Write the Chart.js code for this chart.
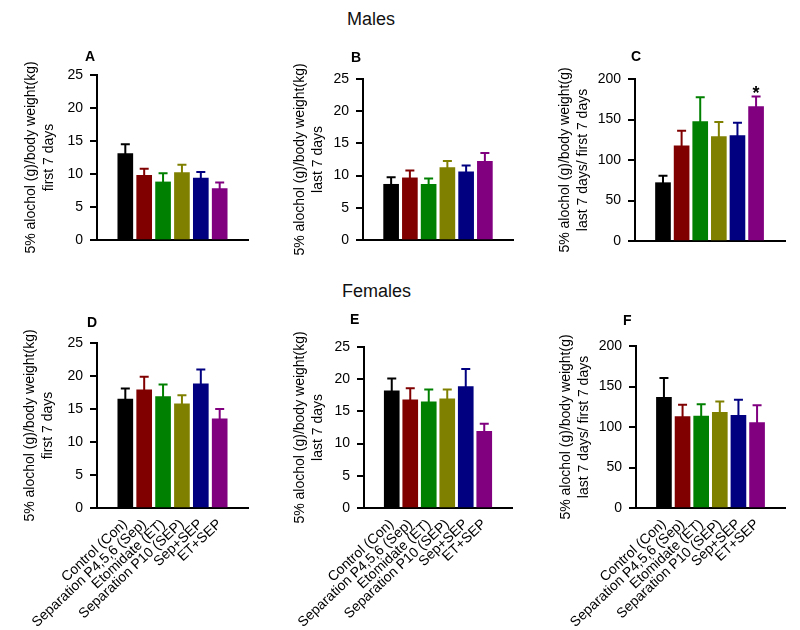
<!DOCTYPE html>
<html>
<head>
<meta charset="utf-8">
<script src="https://cdn.jsdelivr.net/npm/chart.js@4.4.1/dist/chart.umd.min.js"></script>
<style>
  body { margin: 0; background: #fff; width: 800px; height: 630px; position: relative; overflow: hidden;
         font-family: 'Liberation Sans', Arial, sans-serif; }
  .head { position: absolute; font-size: 18px; color: #111; }
  canvas { position: absolute; }
</style>
</head>
<body>
<div class="head" style="left:347px; top:9px;">Males</div>
<div class="head" style="left:342px; top:281px;">Females</div>

<canvas id="pA"></canvas>
<canvas id="pB"></canvas>
<canvas id="pC"></canvas>
<canvas id="pD"></canvas>
<canvas id="pE"></canvas>
<canvas id="pF"></canvas>

<script>
// groups and colours
const groups = ['Control (Con)', 'Separation P4,5,6 (Sep)', 'Etomidate (ET)', 'Separation P10 (SEP)', 'Sep+SEP', 'ET+SEP'];
const barColors = ['#000000', '#800000', '#008000', '#808000', '#000080', '#800080'];

// males
const maleFirst = [13.1, 9.8, 8.8, 10.2, 9.4, 7.8];
const maleFirstSem = [1.4, 1.0, 1.3, 1.2, 0.9, 0.9];
const maleLast = [8.65, 9.65, 8.65, 11.25, 10.6, 12.2];
const maleLastSem = [1.1, 1.15, 0.9, 1.0, 0.95, 1.3];
const maleRatio = [72, 117.5, 147.5, 129, 130, 166];
const maleRatioSem = [8.5, 18.5, 30, 18, 16, 12.5];
const maleRatioSig = ['', '', '', '', '', '*'];

// females
const femaleFirst = [16.5, 17.9, 16.9, 15.8, 18.8, 13.5];
const femaleFirstSem = [1.6, 2.0, 1.8, 1.3, 2.2, 1.5];
const femaleLast = [18.2, 16.8, 16.5, 16.95, 18.85, 11.9];
const femaleLastSem = [1.9, 1.8, 1.9, 1.45, 2.75, 1.2];
const femaleRatio = [136.5, 113, 113.5, 118, 114.5, 105.5];
const femaleRatioSem = [24, 14.5, 14.5, 13.5, 19, 21.5];

const titleKg = '5% alochol (g)/body weight(kg)';
const titleG = '5% alochol (g)/body weight(g)';
const FONT = "'Liberation Sans', Arial, sans-serif";

// box = canvas [x, y, w, h], plot = chart area [left, top, right, bottom], page pixels
const panels = [
  { id: 'pA', letter: 'A', letterAt: [85, 61], means: maleFirst, sem: maleFirstSem, max: 25, step: 5,
    title: [titleKg, 'first 7 days'], t1: 31, box: [0, 40, 265, 222], plot: [97, 75, 248, 240], xMin: -1, xMax: 6, labels: false },
  { id: 'pB', letter: 'B', letterAt: [351, 62], means: maleLast, sem: maleLastSem, max: 25, step: 5,
    title: [titleKg, 'last 7 days'], t1: 300, box: [265, 40, 265, 222], plot: [363, 79, 513, 240], xMin: -1, xMax: 6, labels: false },
  { id: 'pC', letter: 'C', letterAt: [631, 61], means: maleRatio, sem: maleRatioSem, sig: maleRatioSig, max: 200, step: 50,
    title: [titleG, 'last 7 days/ first 7 days'], t1: 565, box: [530, 40, 270, 222], plot: [635, 79, 785, 241], xMin: -1, xMax: 6.05, labels: false },
  { id: 'pD', letter: 'D', letterAt: [87, 327], means: femaleFirst, sem: femaleFirstSem, max: 25, step: 5,
    title: [titleKg, 'first 7 days'], t1: 30, box: [0, 300, 265, 330], plot: [97, 343, 248, 508], xMin: -1, xMax: 6, labels: true },
  { id: 'pE', letter: 'E', letterAt: [350, 324], means: femaleLast, sem: femaleLastSem, max: 25, step: 5,
    title: [titleKg, 'last 7 days'], t1: 300, box: [265, 300, 265, 330], plot: [364, 347, 512, 508], xMin: -1, xMax: 6, labels: true },
  { id: 'pF', letter: 'F', letterAt: [623, 325], means: femaleRatio, sem: femaleRatioSem, max: 200, step: 50,
    title: [titleG, 'last 7 days/ first 7 days'], t1: 566, box: [530, 300, 270, 330], plot: [636, 346, 785, 508], xMin: -1, xMax: 6, labels: true }
];

function makePanel(p) {
  const [bx, by, bw, bh] = p.box;
  const [pl, pt, pr, pb] = p.plot;
  const cv = document.getElementById(p.id);
  cv.width = bw; cv.height = bh;
  cv.style.left = bx + 'px'; cv.style.top = by + 'px';
  cv.style.width = bw + 'px'; cv.style.height = bh + 'px';

  // error bars, asterisk, axis title and panel letter
  const decor = {
    id: 'decor',
    afterDatasetsDraw(chart) {
      const ctx = chart.ctx, y = chart.scales.y;
      ctx.save();
      chart.getDatasetMeta(0).data.forEach((bar, i) => {
        const top = y.getPixelForValue(p.means[i] + p.sem[i]);
        ctx.strokeStyle = barColors[i];
        ctx.lineWidth = 2;
        ctx.beginPath();
        ctx.moveTo(bar.x, bar.y + 1);
        ctx.lineTo(bar.x, top);
        ctx.moveTo(bar.x - 4.5, top);
        ctx.lineTo(bar.x + 4.5, top);
        ctx.stroke();
        if (p.sig && p.sig[i]) {
          ctx.fillStyle = '#000';
          ctx.font = 'bold 18px ' + FONT;
          ctx.textAlign = 'center';
          ctx.textBaseline = 'alphabetic';
          ctx.fillText(p.sig[i], bar.x, top + 3);
        }
      });
      ctx.restore();
    },
    afterDraw(chart) {
      const ctx = chart.ctx, area = chart.chartArea;
      const cy = (area.top + area.bottom) / 2;
      ctx.save();
      ctx.fillStyle = '#000';
      ctx.font = '14px ' + FONT;
      ctx.textAlign = 'center';
      ctx.textBaseline = 'middle';
      p.title.forEach((line, k) => {
        ctx.save();
        ctx.translate(p.t1 - bx + k * 18.5, cy);
        ctx.rotate(-Math.PI / 2);
        ctx.fillText(line, 0, 0);
        ctx.restore();
      });
      ctx.font = 'bold 14px ' + FONT;
      ctx.textAlign = 'left';
      ctx.textBaseline = 'alphabetic';
      ctx.fillText(p.letter, p.letterAt[0] - bx, p.letterAt[1] - by);
      ctx.restore();
    }
  };

  new Chart(cv, {
    type: 'bar',
    data: {
      datasets: [{
        data: p.means.map((v, i) => ({ x: i, y: v })),
        backgroundColor: barColors,
        borderWidth: 0,
        barThickness: 15
      }]
    },
    options: {
      responsive: false,
      animation: false,
      layout: { padding: { top: pt - by, right: bx + bw - pr, left: 0, bottom: 0 } },
      plugins: { legend: { display: false }, tooltip: { enabled: false } },
      scales: {
        x: {
          type: 'linear',
          min: p.xMin,
          max: p.xMax,
          grid: { display: false, drawTicks: false },
          border: { display: true, color: '#000', width: 2 },
          afterFit: s => { s.height = by + bh - pb; },
          ticks: {
            display: p.labels,
            stepSize: 1,
            includeBounds: false,
            autoSkip: false,
            maxRotation: 43,
            minRotation: 43,
            padding: 8,
            color: '#000',
            font: { family: FONT, size: 14 },
            callback: v => groups[v] ?? ''
          }
        },
        y: {
          min: 0,
          max: p.max,
          ticks: { stepSize: p.step, color: '#000', padding: 7, font: { family: FONT, size: 14 } },
          grid: { display: true, drawOnChartArea: false, drawTicks: true, tickLength: 7, color: '#000', lineWidth: 2 },
          border: { display: true, color: '#000', width: 2 },
          afterFit: s => { s.width = pl - bx; }
        }
      }
    },
    plugins: [decor]
  });
}

panels.forEach(makePanel);
</script>
</body>
</html>
